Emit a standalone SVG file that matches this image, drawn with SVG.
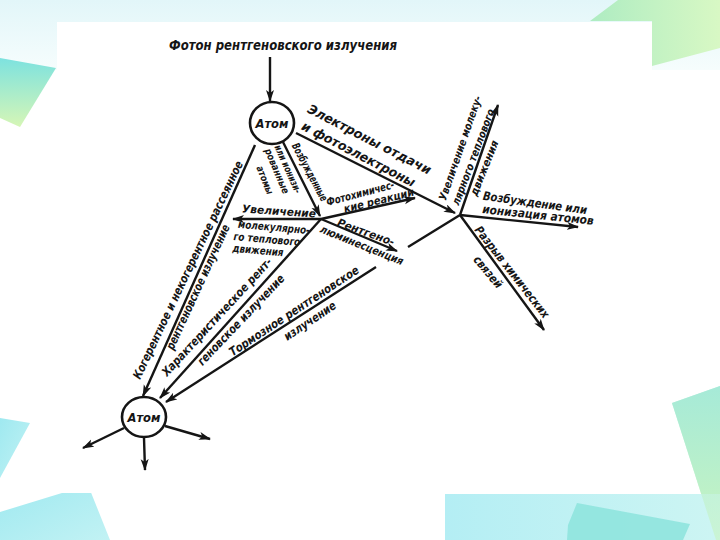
<svg xmlns="http://www.w3.org/2000/svg" width="720" height="540" viewBox="0 0 720 540">
<defs>
<linearGradient id="gTop" x1="0" y1="0" x2="0" y2="1"><stop offset="0" stop-color="#e2f6f9"/><stop offset="1" stop-color="#f6fdfd"/></linearGradient>
<linearGradient id="gTL" x1="0" y1="0" x2="0" y2="1"><stop offset="0" stop-color="#7de2df"/><stop offset="1" stop-color="#d6f6b6"/></linearGradient>
<linearGradient id="gTR" x1="0" y1="0" x2="1" y2="0"><stop offset="0" stop-color="#aeecc2"/><stop offset="1" stop-color="#d8f8c4"/></linearGradient>
<linearGradient id="gRB" x1="0" y1="0" x2="0" y2="1"><stop offset="0" stop-color="#a6ead8"/><stop offset="1" stop-color="#c8f4c0"/></linearGradient>
<linearGradient id="gBB" x1="0" y1="0" x2="1" y2="0"><stop offset="0" stop-color="#b4eef4"/><stop offset="1" stop-color="#cdf5f3"/></linearGradient>
<linearGradient id="gBL" x1="0" y1="0" x2="1" y2="1"><stop offset="0" stop-color="#9fe9f0"/><stop offset="1" stop-color="#c2f2f4"/></linearGradient>
<marker id="ah" markerUnits="userSpaceOnUse" markerWidth="14" markerHeight="9" refX="11" refY="4" orient="auto">
<path d="M0,0 L12,4 L0,8 L3,4 z" fill="#151515"/>
</marker>
<style>
.t{font-family:"Liberation Sans Narrow","DejaVu Sans Condensed","Liberation Sans",sans-serif;font-style:italic;font-weight:bold;fill:#151515;text-anchor:middle}
.s10{font-size:10px}.s11{font-size:11px}.s12{font-size:12px}.s13{font-size:13px}.s14{font-size:14px}
.ln{stroke:#151515;stroke-width:2.4;fill:none}
.ar{marker-end:url(#ah)}
.atom{fill:#fff;stroke:#151515;stroke-width:2.6}
</style>
</defs>

<!-- background and decorations -->
<rect x="0" y="0" width="720" height="540" fill="#ffffff"/>
<rect x="0" y="0" width="720" height="70" fill="url(#gTop)"/>
<polygon points="0,58 56,68 20,127 0,118" fill="url(#gTL)"/>
<polygon points="590,21 618,0 720,0 720,48 652,66 652,21" fill="url(#gTR)"/>
<polygon points="672,403 720,386 720,540 716,540" fill="url(#gRB)"/>
<rect x="445" y="494" width="275" height="46" fill="url(#gBB)"/>
<polygon points="577,503 690,524 683,540 567,540 568,525" fill="#8fe4de" opacity="0.9"/>
<polygon points="672,403 720,386 720,540 716,540" fill="url(#gRB)" opacity="0.6"/>
<polygon points="0,418 30,423 0,478" fill="url(#gBL)"/>
<polygon points="0,512 88,485 110,540 0,540" fill="url(#gBL)"/>
<rect x="57" y="22" width="595" height="471" fill="#ffffff"/>

<!-- connectors -->
<g id="connectors">
<line class="ln ar" x1="270" y1="57" x2="270" y2="101"/>
<line class="ln ar" x1="255" y1="145" x2="143" y2="396"/>
<line class="ln ar" x1="283" y1="142" x2="320" y2="216"/>
<line class="ln ar" x1="296" y1="133" x2="455" y2="213"/>
<line class="ln ar" x1="321" y1="219" x2="233" y2="219"/>
<line class="ln ar" x1="321" y1="219" x2="415" y2="198"/>
<line class="ln ar" x1="321" y1="219" x2="397" y2="251"/>
<line class="ln ar" x1="321" y1="219" x2="160" y2="398"/>
<line class="ln ar" x1="376" y1="267" x2="166" y2="402"/>
<line class="ln" x1="408" y1="247" x2="460" y2="215"/>
<line class="ln ar" x1="460" y1="215" x2="498" y2="105"/>
<line class="ln ar" x1="460" y1="215" x2="578" y2="227"/>
<line class="ln ar" x1="460" y1="215" x2="544" y2="330"/>
<line class="ln ar" x1="124" y1="428" x2="83" y2="448"/>
<line class="ln ar" x1="144" y1="438" x2="145" y2="470"/>
<line class="ln ar" x1="165" y1="426" x2="210" y2="439"/>
</g>

<!-- nodes -->
<g id="photon">
<text class="t s14" x="283" y="50" textLength="228" lengthAdjust="spacingAndGlyphs">Фотон рентгеновского излучения</text>
</g>
<g id="atom-top">
<ellipse class="atom" cx="272" cy="123" rx="22" ry="21"/>
<text class="t s13" x="272" y="128" textLength="33" lengthAdjust="spacingAndGlyphs">Атом</text>
</g>
<g id="atom-bottom">
<ellipse class="atom" cx="144" cy="417" rx="22" ry="20"/>
<text class="t s13" x="144" y="422" textLength="33" lengthAdjust="spacingAndGlyphs">Атом</text>
</g>

<!-- labels -->
<g id="labels">
<text class="t s12" transform="translate(188,270) rotate(-64.5)" y="4" textLength="240" lengthAdjust="spacingAndGlyphs">Когерентное и некогерентное рассеянное</text>
<text class="t s12" transform="translate(198,287) rotate(-65.3)" y="4" textLength="136" lengthAdjust="spacingAndGlyphs">рентгеновское излучение</text>
<text class="t s12" transform="translate(217,317) rotate(-47.3)" y="4" textLength="156" lengthAdjust="spacingAndGlyphs">Характеристическое рент-</text>
<text class="t s12" transform="translate(241,320) rotate(-46.4)" y="4" textLength="120" lengthAdjust="spacingAndGlyphs">геновское излучение</text>
<text class="t s12" transform="translate(294,311) rotate(-33.5)" y="4" textLength="153" lengthAdjust="spacingAndGlyphs">Тормозное рентгеновское</text>
<text class="t s12" transform="translate(310,321) rotate(-34)" y="4" textLength="60" lengthAdjust="spacingAndGlyphs">излучение</text>
<text class="t s13" transform="translate(366,146) rotate(27.3)" y="-3" textLength="137" lengthAdjust="spacingAndGlyphs">Электроны отдачи</text>
<text class="t s13" transform="translate(356,159) rotate(27.5)" y="-1" textLength="126" lengthAdjust="spacingAndGlyphs">и фотоэлектроны</text>
<text class="t s11" transform="translate(310,172) rotate(62)" y="4" textLength="64" lengthAdjust="spacingAndGlyphs">Возбужденные</text>
<text class="t s10" transform="translate(288,169) rotate(66)" y="3.5" textLength="52" lengthAdjust="spacingAndGlyphs">или ионизи-</text>
<text class="t s10" transform="translate(277,171) rotate(67)" y="3.5" textLength="48" lengthAdjust="spacingAndGlyphs">рованные</text>
<text class="t s10" transform="translate(265,180) rotate(68)" y="3.5" textLength="30" lengthAdjust="spacingAndGlyphs">атомы</text>
<text class="t s11" transform="translate(279,211) rotate(4)" y="4" textLength="74" lengthAdjust="spacingAndGlyphs">Увеличение</text>
<text class="t s11" transform="translate(274,227) rotate(5)" y="4" textLength="72" lengthAdjust="spacingAndGlyphs">молекулярно-</text>
<text class="t s11" transform="translate(267,239) rotate(5)" y="4" textLength="67" lengthAdjust="spacingAndGlyphs">го теплового</text>
<text class="t s11" transform="translate(258,250) rotate(5)" y="4" textLength="51" lengthAdjust="spacingAndGlyphs">движения</text>
<text class="t s11" transform="translate(361,196) rotate(-15)" y="1" textLength="70" lengthAdjust="spacingAndGlyphs">Фотохимичес-</text>
<text class="t s11" transform="translate(380,205) rotate(-14)" y="-1" textLength="72" lengthAdjust="spacingAndGlyphs">кие реакции</text>
<text class="t s11" transform="translate(366,232) rotate(20)" y="4" textLength="60" lengthAdjust="spacingAndGlyphs">Рентгено-</text>
<text class="t s11" transform="translate(362,245) rotate(22)" y="4" textLength="89" lengthAdjust="spacingAndGlyphs">люминесценция</text>
<text class="t s11" transform="translate(460,148) rotate(-70.8)" y="4" textLength="110" lengthAdjust="spacingAndGlyphs">Увеличение молеку-</text>
<text class="t s11" transform="translate(473,157) rotate(-69.3)" y="4" textLength="102" lengthAdjust="spacingAndGlyphs">лярного теплового</text>
<text class="t s11" transform="translate(484,168) rotate(-68)" y="4" textLength="59" lengthAdjust="spacingAndGlyphs">движения</text>
<text class="t s12" transform="translate(535,203) rotate(8)" y="4" textLength="105" lengthAdjust="spacingAndGlyphs">Возбуждение или</text>
<text class="t s12" transform="translate(538,215) rotate(6)" y="4" textLength="112" lengthAdjust="spacingAndGlyphs">ионизация атомов</text>
<text class="t s12" transform="translate(512,272) rotate(52)" y="4" textLength="113" lengthAdjust="spacingAndGlyphs">Разрыв химических</text>
<text class="t s12" transform="translate(488,272) rotate(50)" y="4" textLength="38" lengthAdjust="spacingAndGlyphs">связей</text>
</g>
</svg>
